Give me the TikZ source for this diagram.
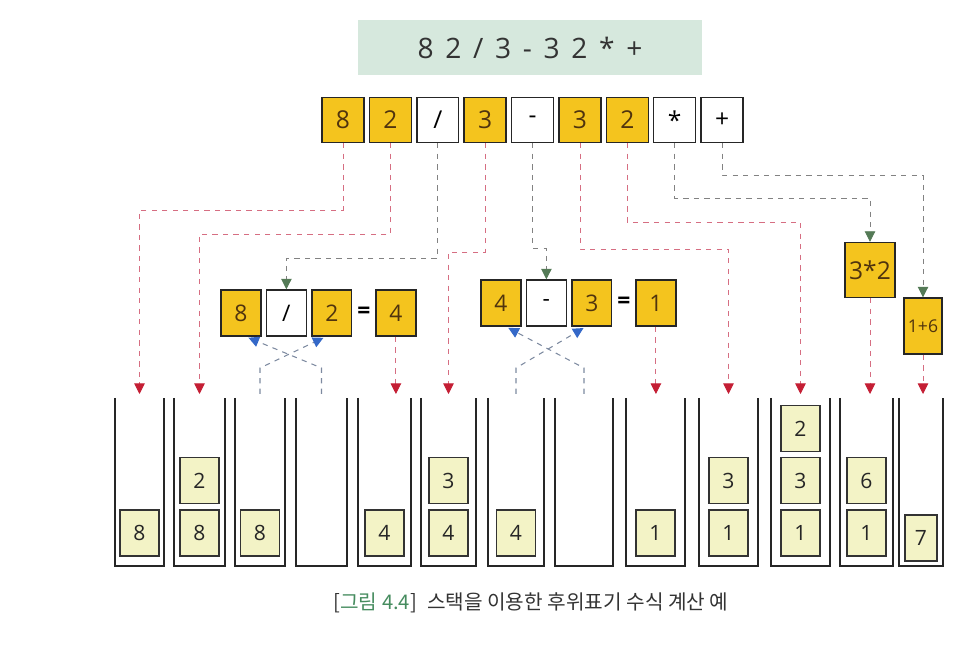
\documentclass[tikz,border=0pt]{standalone}
\usepackage{fontspec}
\setmainfont{Open Sans}
\newfontfamily\krfont{Noto Sans CJK KR}
\newfontfamily\exprfont[WordSpace=1.6]{Open Sans}
\usetikzlibrary{positioning,arrows.meta}

\definecolor{tokgold}{RGB}{244,196,30}
\definecolor{tokbrown}{RGB}{80,52,14}
\definecolor{itemfill}{RGB}{243,243,198}
\definecolor{bannerbg}{RGB}{214,232,221}
\definecolor{pushred}{RGB}{196,30,52}
\definecolor{pushline}{RGB}{214,110,130}
\definecolor{feedgreen}{RGB}{84,122,86}
\definecolor{feedline}{RGB}{130,130,130}
\definecolor{popblue}{RGB}{52,104,200}
\definecolor{popline}{RGB}{125,138,160}
\definecolor{capgreen}{RGB}{70,140,95}

\tikzset{
  tok/.style={draw=black!85, line width=0.8pt, fill=tokgold, text=tokbrown, minimum width=8.4mm, minimum height=9mm, inner sep=0pt, font=\fontsize{14}{14}\selectfont},
  opbox/.style={tok, fill=white, text=black},
  cell/.style={tok, minimum width=8mm, minimum height=9.2mm, font=\fontsize{13}{13}\selectfont},
  opcell/.style={cell, fill=white, text=black},
  eqsign/.style={minimum width=4.4mm, inner sep=0pt, font=\bfseries\fontsize{13}{13}\selectfont},
  item/.style={draw=black!80, line width=0.7pt, fill=itemfill, text=black!85, minimum width=7.8mm, minimum height=9.2mm, inner sep=0pt, font=\fontsize{12}{12}\selectfont},
  well/.style={draw=black!85, line width=1pt},
  push/.style={pushline, dashed, line width=0.5pt, -{Triangle[length=6pt,width=6pt,color=pushred]}},
  feed/.style={feedline, dashed, line width=0.5pt, -{Triangle[length=6pt,width=6pt,color=feedgreen]}},
  pop/.style={popline, dashed, line width=0.6pt, shorten >=1.5pt, -{Triangle[length=6pt,width=6pt,color=popblue]}},
}

\begin{document}
\begin{tikzpicture}[x=0.02cm,y=-0.02cm]
\useasboundingbox (0,0) rectangle (957,651);

% postfix expression
\node[fill=bannerbg, minimum width=69mm, minimum height=11mm, font=\exprfont\fontsize{16}{16}\selectfont, text=black!80] (expr) at (530,48) {8 2 / 3 - 3 2 * +};

% tokens
\node[tok] (t1) at (343,120) {8};
\node[tok, right=0.8mm of t1] (t2) {2};
\node[opbox, right=0.8mm of t2] (t3) {/};
\node[tok, right=0.8mm of t3] (t4) {3};
\node[opbox, right=0.8mm of t4] (t5) {-};
\node[tok, right=0.8mm of t5] (t6) {3};
\node[tok, right=0.8mm of t6] (t7) {2};
\node[opbox, right=0.8mm of t7] (t8) {*};
\node[opbox, right=0.8mm of t8] (t9) {+};

% stacks
\foreach \n/\l/\r in {1/115/164, 2/174/225, 3/235/285, 4/296/347, 5/358/411, 6/421/476, 7/488/544, 8/555/613, 9/626/685, 10/699/758, 11/771/830, 12/840/893, 13/899/943} {
  \draw[well] (\l,398) |- (\r,566) -- (\r,398);
  \coordinate (s\n) at ({(\l+\r)/2},394);
}

% stack contents
\node[item] (s1a) at (s1 |- 0,533) {8};
\node[item] (s2a) at (s2 |- 0,533) {8};
\node[item, above=1mm of s2a] (s2b) {2};
\node[item] (s3a) at (s3 |- 0,533) {8};
\node[item] (s5a) at (s5 |- 0,533) {4};
\node[item] (s6a) at (s6 |- 0,533) {4};
\node[item, above=1mm of s6a] (s6b) {3};
\node[item] (s7a) at (s7 |- 0,533) {4};
\node[item] (s9a) at (s9 |- 0,533) {1};
\node[item] (s10a) at (s10 |- 0,533) {1};
\node[item, above=1mm of s10a] (s10b) {3};
\node[item] (s11a) at (s11 |- 0,533) {1};
\node[item, above=1mm of s11a] (s11b) {3};
\node[item, above=1mm of s11b] (s11c) {2};
\node[item] (s12a) at (s12 |- 0,533) {1};
\node[item, above=1mm of s12a] (s12b) {6};
\node[item, minimum width=6.4mm] (s13a) at (s13 |- 0,538) {7};

% 8 / 2 = 4
\node[cell] (a1) at (241,313) {8};
\node[opcell, right=0.8mm of a1] (a2) {/};
\node[cell, right=0.8mm of a2] (a3) {2};
\node[eqsign, right=0pt of a3] (a4) {=};
\node[cell, right=0pt of a4] (a5) {4};

% 4 - 3 = 1
\node[cell] (b1) at (501,303) {4};
\node[opcell, right=0.8mm of b1] (b2) {-};
\node[cell, right=0.8mm of b2] (b3) {3};
\node[eqsign, right=0pt of b3] (b4) {=};
\node[cell, right=0pt of b4] (b5) {1};

% 3*2 and 1+6
\node[tok, minimum width=10mm, minimum height=11mm] (r1) at (870,270) {3*2};
\node[tok, minimum width=7.6mm, minimum height=11.2mm, font=\fontsize{10}{10}\selectfont] (r2) at (923,326) {1+6};

% tokens to stacks / operations
\draw[push] (t1.south) -- (t1.south |- 0,210) -| (s1);
\draw[push] (t2.south) -- (t2.south |- 0,234) -| (s2);
\draw[feed] (t3.south) -- (t3.south |- 0,258) -| (a2.north);
\draw[push] (t4.south) -- (t4.south |- 0,252) -| (s6);
\draw[feed] (t5.south) -- (t5.south |- 0,248) -| (b2.north);
\draw[push] (t6.south) -- (t6.south |- 0,249) -| (s10);
\draw[push] (t7.south) -- (t7.south |- 0,222) -| (s11);
\draw[feed] (t8.south) -- (t8.south |- 0,198) -| (r1.north);
\draw[feed] (t9.south) -- (t9.south |- 0,175) -| (r2.north);

% results pushed back
\draw[push] (a5.south) -- (a5.south |- s5);
\draw[push] (b5.south) -- (b5.south |- s9);
\draw[push] (r1.south) -- (r1.south |- s12);
\draw[push] (r2.south) -- (r2.south |- s13);

% popped operands
\draw[pop] (s3) -- ++(0,-26) -- ([xshift=-1.2mm]a3.south);
\draw[pop] (s4) -- ++(0,-26) -- ([xshift=1mm]a1.south);
\draw[pop] (s7) -- ++(0,-26) -- ([xshift=-1.2mm]b3.south);
\draw[pop] (s8) -- ++(0,-26) -- ([xshift=1mm]b1.south);

% caption
\node[font=\krfont\fontsize{11.5}{11.5}\selectfont, text=black!80] (cap) at (531,603) {[{\color{capgreen}그림 4.4}]\enspace 스택을 이용한 후위표기 수식 계산 예};
\end{tikzpicture}
\end{document}
